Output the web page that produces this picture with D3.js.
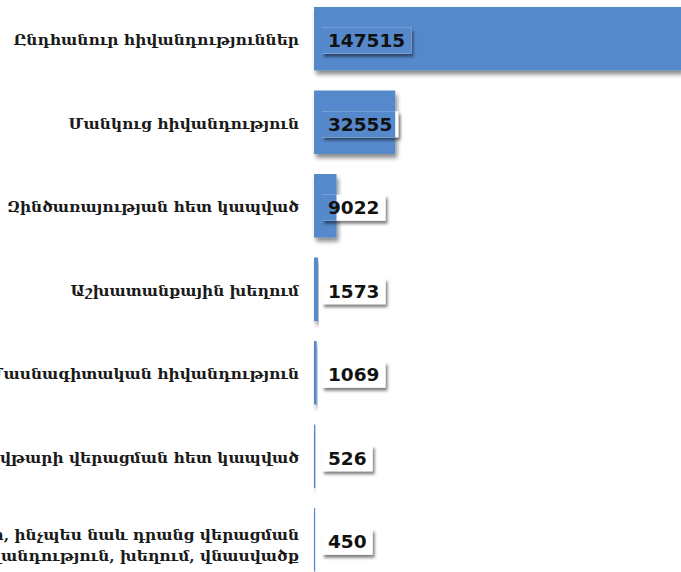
<!DOCTYPE html>
<html>
<head>
<meta charset="utf-8">
<script src="https://cdn.jsdelivr.net/npm/d3@7"></script>
<style>
  html, body { margin: 0; padding: 0; background: #fff; }
  svg { display: block; }
</style>
</head>
<body>
<div id="chart"></div>
<script>
// categories (top to bottom), long last one split in two lines
var categories = [
  ["Ընդհանուր հիվանդություններ"],
  ["Մանկուց հիվանդություն"],
  ["Զինծառայության հետ կապված"],
  ["Աշխատանքային խեղում"],
  ["Մասնագիտական հիվանդություն"],
  ["ՉԱԷԿ-ի վթարի վերացման հետ կապված"],
  ["Ռադիոակտիվ վթարների, ինչպես նաև դրանց վերացման", "հետ կապված հիվանդություն, խեղում, վնասվածք"]
];
var values = [147515, 32555, 9022, 1573, 1069, 526, 450];

var W = 681, H = 572;
var BAR_COLOR = '#5589cb';

var svg = d3.select('#chart').append('svg')
  .attr('width', W)
  .attr('height', H);

//* shadow filters
var defs = svg.append('defs');
defs.append('filter')
  .attr('id', 'barShadow')
  .attr('x', '-10%').attr('y', '-20%')
  .attr('width', '130%').attr('height', '150%')
  .append('feDropShadow')
    .attr('dx', 2).attr('dy', 4)
    .attr('stdDeviation', 2)
    .attr('flood-color', '#000')
    .attr('flood-opacity', 0.45);
defs.append('filter')
  .attr('id', 'boxShadow')
  .attr('x', '-20%').attr('y', '-30%')
  .attr('width', '150%').attr('height', '180%')
  .append('feDropShadow')
    .attr('dx', 2).attr('dy', 3)
    .attr('stdDeviation', 1.8)
    .attr('flood-color', '#000')
    .attr('flood-opacity', 0.5);

var idx = d3.range(values.length);

var x = d3.scaleLinear()
  .domain([0, d3.max(values)])
  .range([314, 682]);

var y = d3.scaleBand()
  .domain(idx)
  .range([7, 571.5])
  .paddingInner(0.24)
  .paddingOuter(0);

//* BARS
svg.append('g').selectAll('rect')
  .data(idx)
  .enter().append('rect')
    .attr('x', x(0))
    .attr('y', function(i){ return y(i); })
    .attr('width', function(i){ return Math.max(1, x(values[i]) - x(0)); })
    .attr('height', y.bandwidth())
    .attr('fill', BAR_COLOR)
    .attr('filter', 'url(#barShadow)');

//* CATEGORY LABELS
var labels = svg.append('g')
  .attr('font-family', '"DejaVu Serif", serif')
  .attr('font-size', 15.4)
  .attr('font-weight', 'bold')
  .attr('fill', '#1a1a1a')
  .style('text-anchor', 'end');

idx.forEach(function(i){
  var lines = categories[i];
  var cy = y(i) + y.bandwidth() / 2;
  var lh = 21;
  lines.forEach(function(line, k){
    labels.append('text')
      .attr('x', 299)
      .attr('y', cy + (k - (lines.length - 1) / 2) * lh + (lines.length > 1 ? 5 : 1))
      .attr('dy', '0.35em')
      .text(line);
  });
});

//* VALUE LABELS (box with shadow)
var vg = svg.append('g');
idx.forEach(function(i){
  var cy = y(i) + y.bandwidth() / 2 + 2;
  var t = vg.append('text')
    .attr('x', 328)
    .attr('y', cy)
    .attr('dy', '0.36em')
    .attr('font-family', '"DejaVu Sans", Verdana, sans-serif')
    .attr('font-weight', 'bold')
    .attr('font-size', 18.5)
    .attr('fill', '#111')
    .text(values[i]);
  var tw = t.node().getComputedTextLength();
  var bx = 322, bw = tw + 12, bh = 26, by = cy - bh / 2;

  vg.insert('rect', function(){ return t.node(); })
    .attr('x', bx).attr('y', by)
    .attr('width', bw).attr('height', bh)
    .attr('fill', '#fff')
    .attr('filter', 'url(#boxShadow)');

  // part of the bar that shows through the box
  var barEnd = x(values[i]);
  if (barEnd > bx) {
    vg.insert('rect', function(){ return t.node(); })
      .attr('x', bx).attr('y', by)
      .attr('width', Math.min(bw, barEnd - bx)).attr('height', bh)
      .attr('fill', BAR_COLOR);
  }
});
</script>
</body>
</html>
